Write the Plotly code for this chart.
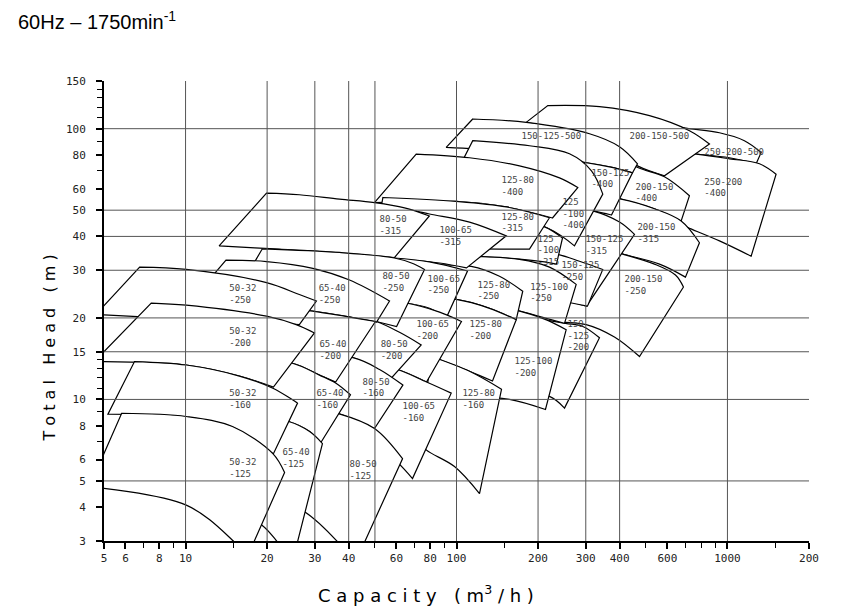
import math
import plotly.graph_objects as go

# ---------------- axis data ----------------
X_TICKS = [5, 6, 8, 10, 20, 30, 40, 60, 80, 100, 200, 300, 400, 600, 1000, 2000]
X_TICK_TEXT = ["5", "6", "8", "10", "20", "30", "40", "60", "80", "100",
               "200", "300", "400", "600", "1000", "200"]
X_MINOR = [7, 9, 15, 50, 70, 90, 150, 500, 700, 800, 900, 1500]
Y_TICKS = [3, 4, 5, 6, 8, 10, 15, 20, 30, 40, 50, 60, 80, 100, 150]
Y_MINOR = [7, 9, 11, 12, 13, 14, 70, 90, 110, 120, 130, 140]
X_GRID = [10, 20, 30, 40, 50, 100, 200, 300, 400, 1000]
Y_GRID = [5, 10, 15, 20, 30, 40, 50, 100]
Q_RANGE = [5, 2000]
H_RANGE = [3, 150]

# ---------------- pump envelopes ----------------
# impeller: (top Q, top H  [min-flow -> max-flow], bottom Q, bottom H [min-flow -> max-flow])
SERIES_50_32 = {
    "250": ([6.77, 10.06, 19.9, 26.3, 30.4], [30.8, 30.2, 27.0, 24.4, 23.1],
            [4.66, 10.06, 17.2, 26.3], [20.6, 19.8, 19.4, 18.9]),
    "200": ([7.47, 10.06, 19.9, 25.6, 29.9], [22.7, 22.3, 20.3, 18.9, 17.6],
            [4.61, 10.06, 15.8, 21.1], [13.8, 13.4, 12.2, 11.1]),
    "160": ([6.48, 10.06, 15.8, 21.0, 25.9], [13.8, 13.4, 12.2, 11.0, 9.69],
            [5.17, 10.06, 14.9, 19.1, 21.1], [8.82, 8.6, 7.9, 6.7, 6.3]),
    "125": ([5.81, 10.06, 14.9, 21.0, 23.2], [8.89, 8.65, 7.94, 6.31, 5.37],
            [4.42, 10.06, 14.9, 16.9], [4.76, 4.07, 3.02, 2.62]),
}
SERIES_65_40 = {
    "250": ([14.1, 19.9, 29.5, 40.3, 56.6], [32.7, 32.3, 30.5, 27.6, 23.1],
            [10.8, 20.4, 29.4, 38.6, 50.7], [23.9, 22.1, 21.2, 20.3, 19.3]),
    "200": ([11.7, 20.4, 29.4, 38.6, 50.2], [23.1, 22.1, 21.2, 20.3, 19.4],
            [12.8, 24.8, 31.2, 35.8], [14.8, 13.6, 12.3, 11.6]),
    "160": ([12.8, 24.8, 31.2, 35.8, 40.6], [14.8, 13.6, 12.3, 11.5, 10.4],
            [12.8, 24.0, 28.7, 31.5], [9.03, 8.29, 7.61, 6.9]),
    "125": ([12.8, 24.0, 28.7, 32.0], [9.03, 8.29, 7.61, 6.87],
            [12.3, 19.1, 21.8, 24.8], [4.37, 3.44, 2.98, 2.51]),
}
SERIES_80_50 = {
    "315": ([19.9, 26.3, 37.0, 49.8, 64.3, 79.4], [57.8, 57.0, 54.9, 53.3, 51.0, 47.6],
            [13.3, 22.2, 37.0, 59.0], [36.9, 35.9, 34.8, 33.4]),
    "250": ([19.2, 37.0, 59.0, 68.2, 76.2], [36.0, 34.9, 33.3, 31.9, 30.2],
            [14.8, 24.2, 37.0, 50.5, 60.1], [23.1, 22.5, 21.0, 19.4, 18.6]),
    "200": ([17.2, 26.3, 37.0, 50.5, 61.6, 74.1], [22.1, 21.5, 20.8, 19.4, 17.7, 15.9],
            [18.8, 26.3, 42.1, 57.1], [15.3, 14.8, 14.2, 11.9]),
    "160": ([18.8, 26.3, 42.1, 52.0, 63.4], [15.3, 14.8, 14.2, 12.9, 11.3],
            [20.4, 26.3, 36.4, 49.8], [9.66, 9.42, 8.88, 7.81]),
    "125": ([20.4, 26.3, 36.4, 49.8, 63.2], [9.66, 9.42, 8.88, 7.81, 6.04],
            [18.8, 27.5, 36.4, 42.1], [4.56, 3.85, 2.98, 2.47]),
}
SERIES_100_65 = {
    "315": ([34.0, 49.8, 79.5, 111.7, 152.6], [53.7, 52.8, 48.4, 45.2, 40.2],
            [34.0, 61.6, 86.6, 108.9], [33.6, 33.0, 31.9, 30.6]),
    "250": ([37.0, 59.0, 79.5, 109.8], [33.6, 33.3, 32.2, 29.8],
            [38.6, 65.2, 79.5, 91.9], [23.5, 22.7, 21.7, 20.1]),
    "200": ([38.6, 65.2, 86.6, 104.3], [23.5, 22.7, 21.0, 19.4],
            [40.3, 58.2, 77.5], [13.8, 13.06, 11.6]),
    "160": ([40.3, 58.2, 77.5, 95.6], [13.8, 13.06, 11.6, 10.55],
            [42.0, 54.2, 68.8], [6.99, 6.42, 5.10]),
}
SERIES_125_80 = {
    "400": ([71.0, 111.7, 170.8, 240.0, 280.3], [80.6, 78.1, 72.9, 65.8, 60.6],
            [49.8, 99.7, 152.6, 226.1], [53.3, 53.9, 51.4, 46.8]),
    "315": ([53.5, 99.7, 152.6, 220.4], [55.7, 53.9, 51.4, 46.9],
            [49.8, 86.6, 144.1, 185.9], [36.9, 36.2, 35.9, 35.9]),
    "250": ([86.6, 113.3, 144.1, 175.6], [31.4, 31.0, 28.5, 25.1],
            [79.5, 99.7, 132.4, 166.1], [23.7, 23.4, 21.7, 19.7]),
    "200": ([79.5, 99.7, 132.4, 166.1], [23.7, 23.4, 21.7, 19.7],
            [80.8, 111.7, 135.8], [14.4, 12.7, 11.7]),
    "160": ([80.8, 111.7, 146.6], [14.4, 12.7, 10.9],
            [73.0, 77.3, 98.3, 121.6], [6.99, 6.51, 5.65, 4.49]),
}
SERIES_125_100 = {
    "400": ([114.8, 185.9, 261.2, 314.9, 346.7], [90.3, 86.5, 80.8, 69.9, 57.3],
            [86.6, 144.1, 220.4, 272.5], [51.9, 47.6, 42.6, 36.9]),
    "315": ([86.6, 144.1, 211.3, 246.2], [51.9, 47.6, 43.4, 39.5],
            [102.6, 170.8, 211.3, 233.9], [33.8, 33.0, 32.2, 31.6]),
    "250": ([102.6, 170.8, 220.4, 276.5], [33.8, 32.9, 30.8, 26.6],
            [111.7, 161.4, 211.3, 250.4], [23.1, 21.5, 20.0, 19.1]),
    "200": ([111.7, 161.4, 211.3, 254.0], [23.1, 21.5, 19.8, 18.1],
            [111.7, 156.9, 213.0], [10.26, 10.0, 9.18]),
}
SERIES_150_125 = {
    "500": ([114.8, 180.8, 309.6, 399.6, 465.6], [108.6, 105.5, 95.8, 85.8, 74.2],
            [91.6, 144.1, 240.0, 367.0, 446.2], [85.3, 82.9, 77.4, 72.3, 68.7]),
    "400": ([121.6, 240.0, 367.0, 446.2], [82.9, 77.4, 72.3, 68.7],
            [144.1, 240.0, 318.4, 373.3], [54.1, 51.9, 49.7, 48.0]),
    "315": ([144.1, 240.0, 318.4, 399.6, 453.9], [54.1, 51.9, 49.7, 45.2, 40.7],
            [170.8, 240.0, 301.8], [25.1, 23.5, 22.1]),
    "250": ([170.8, 233.4, 284.4, 346.7], [35.3, 34.4, 32.4, 30.2],
            [170.8, 240.0, 304.4], [24.1, 23.1, 22.1]),
    "200": ([185.9, 252.5, 292.5, 337.1], [20.1, 19.1, 18.6, 16.9],
            [170.8, 220.4, 250.4], [10.5, 10.26, 9.29]),
}
SERIES_200_150 = {
    "500": ([217.3, 337.1, 515.6, 724.1, 858.3], [121.7, 120.6, 111.7, 98.3, 87.8],
            [180.8, 337.1, 465.6, 585.6], [105.5, 90.3, 72.9, 67.0]),
    "400": ([337.1, 466.8, 585.6, 724.1], [86.5, 71.9, 66.4, 56.5],
            [309.6, 405.4, 537.9, 674.9], [61.5, 54.9, 50.6, 45.6]),
    "315": ([309.6, 405.4, 537.9, 674.9, 788.3], [56.5, 54.9, 50.6, 45.6, 37.9],
            [309.6, 410.9, 561.3, 699.8], [36.9, 34.4, 31.6, 28.3]),
    "250": ([309.6, 410.9, 537.9, 642.9, 688.1], [36.9, 34.4, 31.6, 28.8, 26.0],
            [233.9, 301.0, 382.8, 473.6], [19.3, 18.9, 17.0, 14.4]),
}
SERIES_250_200 = {
    "500": ([515.6, 674.9, 934.4, 1155, 1332], [108.6, 101.1, 96.6, 90.3, 81.7],
            [473.6, 766.4, 1017, 1276], [84.3, 80.6, 78.1, 74.2]),
    "400": ([473.6, 766.4, 1017, 1313, 1512], [84.3, 80.6, 77.4, 74.2, 67.9],
            [561.3, 713.7, 934.4, 1223], [47.6, 43.1, 38.5, 33.8]),
}

# drawn from back (largest pumps) to front (smallest pumps)
SERIES_ORDER = [SERIES_250_200, SERIES_200_150, SERIES_150_125, SERIES_125_100,
                SERIES_125_80, SERIES_100_65, SERIES_80_50, SERIES_65_40, SERIES_50_32]

# ---------------- size labels ----------------
LABEL_TEXT = ["50-32<br>-250", "50-32<br>-200", "50-32<br>-160", "50-32<br>-125",
              "65-40<br>-250", "65-40<br>-200", "65-40<br>-160", "65-40<br>-125",
              "80-50<br>-315", "80-50<br>-250", "80-50<br>-200", "80-50<br>-160", "80-50<br>-125",
              "100-65<br>-315", "100-65<br>-250", "100-65<br>-200", "100-65<br>-160",
              "125-80<br>-400", "125-80<br>-315", "125-80<br>-250", "125-80<br>-200", "125-80<br>-160",
              "125<br>-100<br>-400", "125<br>-100<br>-315", "125-100<br>-250", "125-100<br>-200",
              "150-125-500", "150-125<br>-400", "150-125<br>-315", "150-125<br>-250", "150<br>-125<br>-200",
              "200-150-500", "200-150<br>-400", "200-150<br>-315", "200-150<br>-250",
              "250-200-500", "250-200<br>-400"]
LABEL_Q = [14.5, 14.5, 14.5, 14.5,
           31.0, 31.2, 30.4, 22.8,
           52.0, 53.3, 52.5, 45.0, 40.3,
           86.5, 78.2, 71.2, 63.2,
           146.6, 146.6, 119.6, 111.7, 105.2,
           246, 199, 187, 163.7,
           173.8, 314.8, 299.2, 244, 256.8,
           435, 457.7, 465.4, 416.9,
           822, 822]
LABEL_H = [24.4, 16.9, 9.96, 5.55,
           24.4, 15.1, 9.96, 6.02,
           43.9, 27.0, 15.1, 11.0, 5.46,
           40.0, 26.4, 17.9, 8.95,
           61.2, 44.7, 25.1, 17.9, 10.0,
           48.2, 35.3, 24.7, 13.1,
           93.0, 65.0, 36.9, 29.6, 17.1,
           93.0, 57.7, 40.8, 26.3,
           81.5, 60.2]

fig = go.Figure()

for series in SERIES_ORDER:
    for imp in sorted(series, key=int, reverse=True):
        tq, th, bq, bh = series[imp]
        # corners are doubled so the spline keeps sharp corners
        xs = [tq[0]] + tq + [tq[-1]] + [bq[-1]] + bq[::-1] + [bq[0]] + [tq[0]]
        ys = [th[0]] + th + [th[-1]] + [bh[-1]] + bh[::-1] + [bh[0]] + [th[0]]
        fig.add_trace(go.Scatter(
            x=xs, y=ys, mode="lines", fill="toself", fillcolor="white",
            line=dict(color="black", width=1.2, shape="spline", smoothing=1, simplify=False),
            hoverinfo="skip"))

# grid drawn over the envelopes
gx, gy = [], []
for q in X_GRID:
    gx += [q, q, None]
    gy += [H_RANGE[0], H_RANGE[1], None]
for h in Y_GRID:
    gx += [Q_RANGE[0], Q_RANGE[1], None]
    gy += [h, h, None]
fig.add_trace(go.Scatter(x=gx, y=gy, mode="lines",
                         line=dict(color="#555555", width=1), hoverinfo="skip"))

fig.add_trace(go.Scatter(
    x=LABEL_Q, y=LABEL_H, mode="text", text=LABEL_TEXT, textposition="middle right",
    textfont=dict(family="DejaVu Sans Mono", size=9, color="#444444"), hoverinfo="skip"))

SP = "\u00a0"
y_title = SP.join("Total") + SP * 3 + SP.join("Head") + SP * 3 + "(" + SP + "m" + SP + ")"
x_title = (SP.join("Capacity") + SP * 3 + "(" + SP + "m<sup>3</sup>" + SP + "/" + SP + "h" + SP + ")")

axis_font = dict(family="DejaVu Sans Mono", size=11, color="#222222")

# the page adds an 8 px body margin around the figure
W, H = 835, 598
fig.update_layout(
    width=W, height=H,
    margin=dict(l=96, r=34, t=73, b=65),
    plot_bgcolor="white", paper_bgcolor="white",
    showlegend=False,
    title=dict(text="60Hz – 1750min<sup>-1</sup>", xref="container", yref="container",
               x=10 / W, xanchor="left", y=1 - 14 / H, yanchor="middle",
               font=dict(family="Liberation Sans, Arial", size=20, color="black")),
    annotations=[
        dict(text=x_title, xref="paper", yref="paper", x=0.457, y=-0.115,
             xanchor="center", yanchor="middle", showarrow=False,
             font=dict(family="DejaVu Sans", size=18, color="black")),
        dict(text=y_title, xref="paper", yref="paper", x=-0.077, y=0.42,
             xanchor="center", yanchor="middle", showarrow=False, textangle=-90,
             font=dict(family="DejaVu Sans", size=16, color="black")),
    ],
)
fig.update_xaxes(
    type="log", range=[math.log10(Q_RANGE[0]), math.log10(Q_RANGE[1])],
    tickvals=X_TICKS, ticktext=X_TICK_TEXT, ticks="outside", ticklen=6, tickwidth=1.5,
    tickcolor="black", showgrid=False, zeroline=False, automargin=False,
    showline=True, linewidth=2, linecolor="black", tickfont=axis_font,
    minor=dict(tickvals=X_MINOR, ticks="outside", ticklen=5, tickwidth=1.2,
               tickcolor="black", showgrid=False),
)
fig.update_yaxes(
    type="log", range=[math.log10(H_RANGE[0]), math.log10(H_RANGE[1])],
    tickvals=Y_TICKS, ticktext=[str(v) for v in Y_TICKS], ticks="outside", ticklen=6,
    tickwidth=1.5, tickcolor="black", showgrid=False, zeroline=False, automargin=False,
    showline=True, linewidth=2, linecolor="black", tickfont=axis_font, ticklabelstandoff=8,
    minor=dict(tickvals=Y_MINOR, ticks="outside", ticklen=5, tickwidth=1.2,
               tickcolor="black", showgrid=False),
)

fig.write_html("out.html")
